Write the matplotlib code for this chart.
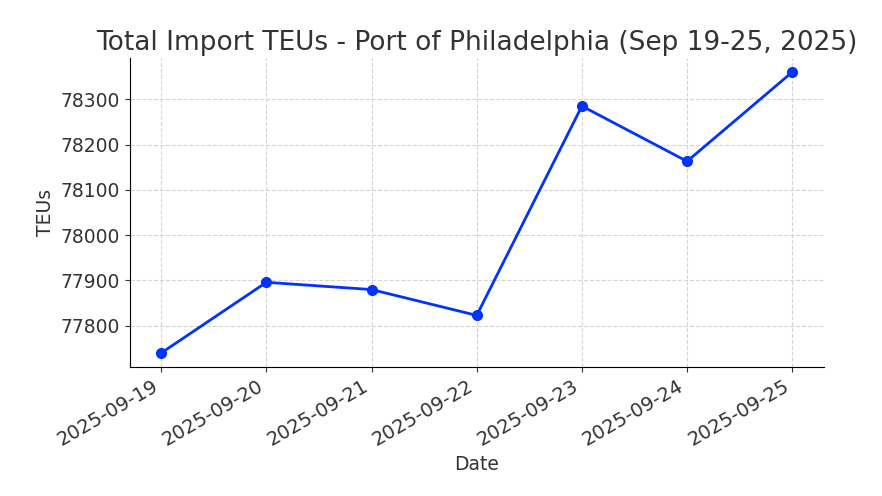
import pandas as pd
import matplotlib
matplotlib.use("Agg")
import matplotlib.pyplot as plt
import matplotlib.dates as mdates

dates = pd.to_datetime(["2025-09-19", "2025-09-20", "2025-09-21", "2025-09-22",
                        "2025-09-23", "2025-09-24", "2025-09-25"])
teus = [77740, 77896, 77880, 77823, 78285, 78163, 78360]

plt.rcParams['text.color'] = '#333333'
plt.rcParams['axes.labelcolor'] = '#333333'
plt.rcParams['xtick.color'] = '#333333'
plt.rcParams['ytick.color'] = '#333333'

fig, ax = plt.subplots(figsize=(8.82, 4.96), dpi=100)
fig.subplots_adjust(left=0.147, right=0.934, top=0.883, bottom=0.26)

ax.plot(dates, teus, marker='o', color='#0033ff', linewidth=2, markersize=7)
ax.set_title('Total Import TEUs - Port of Philadelphia (Sep 19-25, 2025)', fontsize=19)
ax.set_xlabel('Date', fontsize=13.5)
ax.set_ylabel('TEUs', fontsize=13.5)
ax.tick_params(labelsize=13.5)
ax.tick_params(axis='x', labelsize=14)
ax.grid(True, linestyle='--', color='#d5d5d5', linewidth=0.8)
ax.spines['top'].set_visible(False)
ax.spines['right'].set_visible(False)
ax.set_xticks(dates)
ax.xaxis.set_major_formatter(mdates.DateFormatter('%Y-%m-%d'))
ax.set_yticks([77800, 77900, 78000, 78100, 78200, 78300])
for lbl in ax.get_xticklabels():
    lbl.set_rotation(30)
    lbl.set_ha('right')

fig.savefig("out.png", dpi=100)
